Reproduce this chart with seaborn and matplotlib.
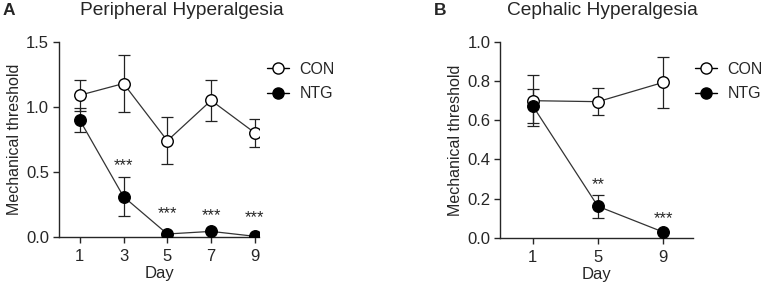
"""Mechanical threshold time course, CON vs NTG (peripheral and cephalic)."""

import numpy as np
import pandas as pd
import matplotlib
matplotlib.use("Agg")
import matplotlib.pyplot as plt
import seaborn as sns
from matplotlib.lines import Line2D

# Panel A: peripheral hyperalgesia
days_a = [1, 3, 5, 7, 9]
con_a = [1.09, 1.18, 0.74, 1.05, 0.80]
con_a_sem = [0.12, 0.22, 0.18, 0.155, 0.11]
ntg_a = [0.90, 0.31, 0.023, 0.043, 0.005]
ntg_a_sem = [0.09, 0.15, 0.0, 0.0, 0.0]
stars_a = ["", "***", "***", "***", "***"]
star_y_a = [0, 0.55, 0.18, 0.165, 0.145]

# Panel B: cephalic hyperalgesia
days_b = [1, 5, 9]
con_b = [0.70, 0.695, 0.793]
con_b_sem = [0.13, 0.068, 0.13]
ntg_b = [0.673, 0.161, 0.03]
ntg_b_sem = [0.085, 0.06, 0.0]
stars_b = ["", "**", "***"]
star_y_b = [0, 0.27, 0.10]

sns.set_style("ticks")
plt.rcParams["font.family"] = ["Liberation Sans", "DejaVu Sans"]
plt.rcParams["axes.linewidth"] = 1.0

fig = plt.figure(figsize=(7.65, 2.89), dpi=100)
ax_a = fig.add_axes([0.077, 0.180, 0.262, 0.675])
ax_b = fig.add_axes([0.654, 0.177, 0.252, 0.678])


def draw_panel(ax, days, con, con_sem, ntg, ntg_sem, stars, star_y):
    df = pd.DataFrame({
        "Day": days * 2,
        "value": con + ntg,
        "sem": con_sem + ntg_sem,
        "group": ["CON"] * len(days) + ["NTG"] * len(days),
    })
    for grp in ["CON", "NTG"]:
        sub = df[df["group"] == grp]
        ax.errorbar(sub["Day"], sub["value"], yerr=sub["sem"], fmt="none",
                    ecolor="#222222", elinewidth=0.9, capsize=4.5, capthick=0.9, zorder=2)
    sns.lineplot(data=df, x="Day", y="value", hue="group", style="group",
                 palette={"CON": "#333333", "NTG": "#333333"},
                 markers={"CON": "o", "NTG": "o"}, dashes=False,
                 linewidth=0.9, legend=False, ax=ax, zorder=3)
    # set marker faces per group
    for line, face in zip(ax.get_lines()[-2:], ["white", "black"]):
        line.set_markerfacecolor(face)
        line.set_markeredgecolor("black")
        line.set_markersize(8.3)
        line.set_markeredgewidth(1.0)
    for d, s, y in zip(days, stars, star_y):
        if s:
            ax.text(d, y, s, ha="center", va="center", fontsize=12)
    sns.despine(ax=ax)
    ax.tick_params(direction="out", length=4, width=1, labelsize=12, pad=3)
    ax.tick_params(axis="x", pad=5)
    ax.set_xlabel("Day", fontsize=12, labelpad=1)
    ax.set_ylabel("Mechanical threshold", fontsize=11.5, labelpad=3)


draw_panel(ax_a, days_a, con_a, con_a_sem, ntg_a, ntg_a_sem, stars_a, star_y_a)
ax_a.set_xlim(0.05, 9.2)
ax_a.set_ylim(0, 1.5)
ax_a.set_xticks(days_a)
ax_a.set_yticks([0.0, 0.5, 1.0, 1.5])
ax_a.set_yticklabels(["0.0", "0.5", "1.0", "1.5"])

draw_panel(ax_b, days_b, con_b, con_b_sem, ntg_b, ntg_b_sem, stars_b, star_y_b)
ax_b.set_xlim(-1.0, 10.85)
ax_b.set_ylim(0, 1.0)
ax_b.set_xticks(days_b)
ax_b.set_yticks([0.0, 0.2, 0.4, 0.6, 0.8, 1.0])
ax_b.set_yticklabels(["0.0", "0.2", "0.4", "0.6", "0.8", "1.0"])

handles = [
    Line2D([], [], color="black", linewidth=1.0, marker="o", markersize=8,
           markerfacecolor="white", markeredgecolor="black"),
    Line2D([], [], color="black", linewidth=1.0, marker="o", markersize=8,
           markerfacecolor="black", markeredgecolor="black"),
]
for ax, x0 in [(ax_a, 0.349), (ax_b, 0.9085)]:
    fig.legend(handles, ["CON", "NTG"], loc="upper left", bbox_to_anchor=(x0, 0.787),
               frameon=False, fontsize=11.5, handlelength=1.35, handletextpad=0.7,
               labelspacing=0.62, borderpad=0, borderaxespad=0)

fig.text(0.238, 0.962, "Peripheral Hyperalgesia", ha="center", va="center", fontsize=13.8)
fig.text(0.788, 0.962, "Cephalic Hyperalgesia", ha="center", va="center", fontsize=13.8)
fig.text(0.004, 0.962, "A", ha="left", va="center", fontsize=12.5, fontweight="bold")
fig.text(0.567, 0.962, "B", ha="left", va="center", fontsize=12.5, fontweight="bold")

fig.savefig("out.png", dpi=100)
plt.close(fig)
